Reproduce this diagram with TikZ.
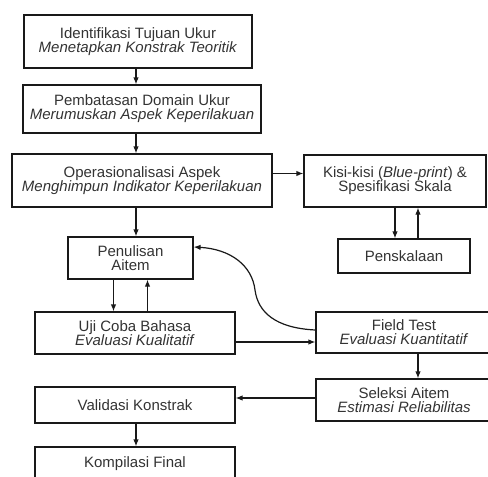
\documentclass[tikz,border=0pt]{standalone}
\usepackage{fontspec}
\setmainfont{Liberation Sans}
\usetikzlibrary{arrows.meta}

\begin{document}
\begin{tikzpicture}[x=1pt, y=-1pt,
    tahap/.style ={rectangle, draw=black!90, line width=1.2pt, align=center,
      inner sep=2pt, text=black!80,
      font=\fontsize{15}{14}\selectfont},
    panah/.style ={line width=1.2pt, draw=black!90, -{Latex[length=7pt,width=5.5pt]}}]
   \useasboundingbox (0,0) rectangle (488,477);

   \node[tahap, minimum width=228pt, minimum height=53pt] (tujuan) at (138,41.5)
     {Identifikasi Tujuan Ukur\\ \textit{Menetapkan Konstrak Teoritik}};
   \node[tahap, minimum width=238pt, minimum height=48pt] (domain) at (142,109)
     {Pembatasan Domain Ukur\\ \textit{Merumuskan Aspek Keperilakuan}};
   \node[tahap, minimum width=260pt, minimum height=53pt] (operasi) at (142,180.5)
     {Operasionalisasi Aspek\\ \textit{Menghimpun Indikator Keperilakuan}};
   \node[tahap, minimum width=182pt, minimum height=52pt] (kisi) at (395,181)
     {Kisi-kisi (\textit{Blue-print}) \&\\ Spesifikasi Skala};
   \node[tahap, minimum width=132pt, minimum height=34pt] (skala) at (404,256)
     {Penskalaan};
   \node[tahap, minimum width=125pt, minimum height=42pt] (tulis) at (130.5,258)
     {Penulisan\\ Aitem};
   \node[tahap, minimum width=200pt, minimum height=42pt] (uji) at (135,333)
     {Uji Coba Bahasa\\ \textit{Evaluasi Kualitatif}};
   \node[tahap, minimum width=176pt, minimum height=41pt] (field) at (404,332.5)
     {Field Test\\ \textit{Evaluasi Kuantitatif}};
   \node[tahap, minimum width=176pt, minimum height=42pt] (seleksi) at (404,400)
     {Seleksi Aitem\\ \textit{Estimasi Reliabilitas}};
   \node[tahap, minimum width=200pt, minimum height=36pt] (valid) at (135,405)
     {Validasi Konstrak};
   \node[tahap, minimum width=200pt, minimum height=33pt] (final) at (135,463.5)
     {Kompilasi Final};

   \coordinate (garis) at (136,0);
   \coordinate (lengkung) at (255,290);

   \draw[panah] (tujuan.south -| garis) to (domain.north -| garis);
   \draw[panah] (domain.south -| garis) to (operasi.north -| garis);
   \draw[panah] (operasi.south -| garis) to (tulis.north -| garis);
   \draw[panah] ([yshift=7pt]operasi.east) to ([yshift=7pt]operasi.east -| kisi.west);
   \draw[panah] (kisi.south) to (kisi.south |- skala.north);
   \draw[panah] ([xshift=23pt]kisi.south |- skala.north) to ([xshift=23pt]kisi.south);
   \draw[panah] ([xshift=-17pt]tulis.south) to ([xshift=-17pt]tulis.south |- uji.north);
   \draw[panah] ([xshift=17pt]tulis.south |- uji.north) to ([xshift=17pt]tulis.south);
   \draw[panah] ([yshift=-9pt]uji.east) to ([yshift=-9pt]uji.east -| field.west);
   \draw[panah] ([xshift=14pt]field.south) to ([xshift=14pt]field.south |- seleksi.north);
   \draw[panah] ([yshift=2pt]seleksi.west) to ([yshift=2pt]seleksi.west -| valid.east);
   \draw[panah] (valid.south -| garis) to (final.north -| garis);
   \draw[panah] ([yshift=2.5pt]field.west) .. controls (275,328) and (258,312) .. (lengkung)
     .. controls (252,265) and (230,249) .. ([yshift=11pt]tulis.east);
 \end{tikzpicture}
\end{document}
